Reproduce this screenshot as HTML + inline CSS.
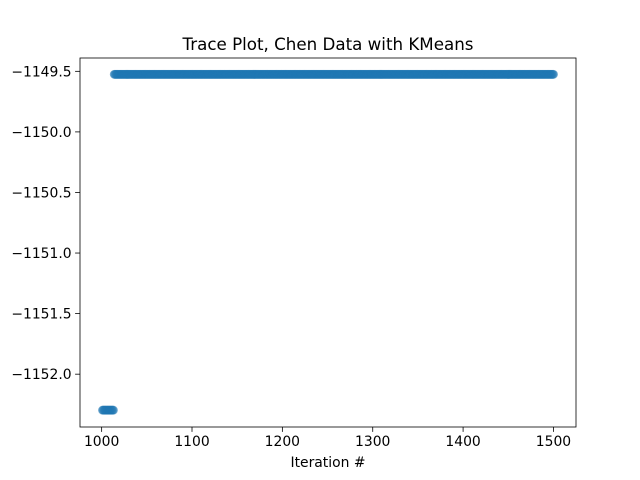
<!DOCTYPE html>
<html><head><meta charset="utf-8"><style>body{margin:0;background:#fff}svg{display:block;font-family:"DejaVu Sans","Liberation Sans",sans-serif}</style></head>
<body>
<svg id="chart" width="640" height="480"></svg>
<script>
const runStarts = [1001, 1014];
const runEnds = [1013, 1500];
const runValues = [-1152.297, -1149.525];
const xTicks = [1000, 1100, 1200, 1300, 1400, 1500];
const yTicks = [-1149.5, -1150.0, -1150.5, -1151.0, -1151.5, -1152.0];

const NS = "http://www.w3.org/2000/svg";
const svg = document.getElementById('chart');
const L = 80, R = 576, T = 58, B = 427;
const xMin = 976.05, xMax = 1524.95;
const yTop = -1149.39, yBot = -1152.436;
function xs(v){ return L + (v - xMin) / (xMax - xMin) * (R - L); }
function ys(v){ return T + (yTop - v) / (yTop - yBot) * (B - T); }
function mk(tag, attrs, parent){ const e = document.createElementNS(NS, tag); for (const k in attrs) e.setAttribute(k, attrs[k]); (parent || svg).appendChild(e); return e; }

const pts = mk('g', {});


for (let r = 0; r < runStarts.length; r++) {
  for (let i = runStarts[r]; i <= runEnds[r]; i++) {
    const c = mk('circle', {cx: xs(i), cy: ys(runValues[r]), r: 4, fill: '#1f77b4', 'fill-opacity': 0.5, stroke: '#1f77b4', 'stroke-opacity': 0.5, 'stroke-width': 1}, pts);
    
    
  }
}

const frame = mk('rect', {x: L, y: T, width: R - L, height: B - T, fill: 'none', stroke: '#000', 'stroke-width': 0.8});



xTicks.forEach(v => {
  const x = xs(v);
  mk('line', {x1: x, x2: x, y1: B, y2: B + 4.9, stroke: '#000', 'stroke-width': 0.8});
  const t = mk('text', {x: x, y: B + 19, 'text-anchor': 'middle', 'font-size': 13.9});
  t.textContent = v;
  
  
});
yTicks.forEach(v => {
  const y = ys(v);
  mk('line', {x1: L - 4.9, x2: L, y1: y, y2: y, stroke: '#000', 'stroke-width': 0.8});
  const t = mk('text', {x: L - 8.4, y: y + 5, 'text-anchor': 'end', 'font-size': 13.9});
  t.textContent = '\u2212' + Math.abs(v).toFixed(1);
  
  
});

const title = mk('text', {x: (L + R) / 2, y: 50, 'text-anchor': 'middle', 'font-size': 16.7});
title.textContent = 'Trace Plot, Chen Data with KMeans';



const xl = mk('text', {x: (L + R) / 2, y: 467, 'text-anchor': 'middle', 'font-size': 13.9});
xl.textContent = 'Iteration #';


</script>
</body></html>
